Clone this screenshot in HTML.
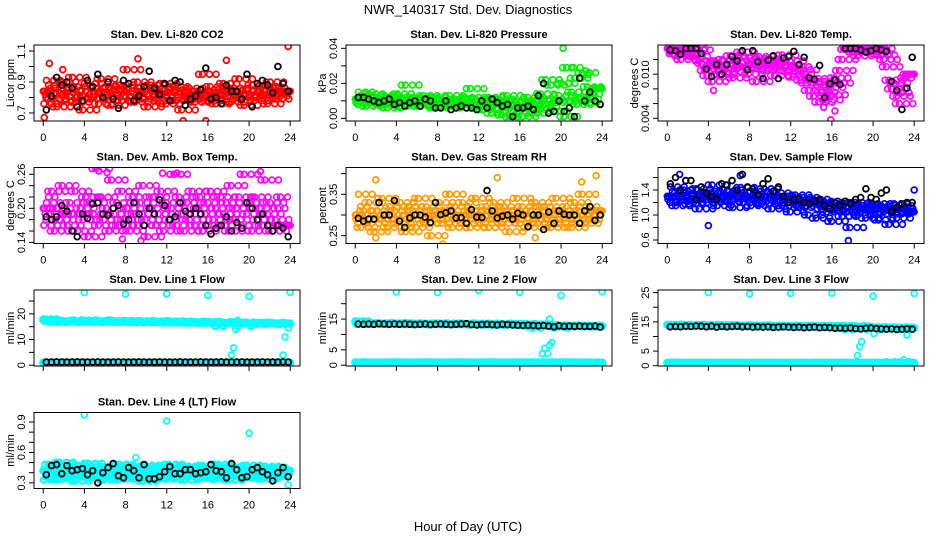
<!DOCTYPE html>
<html>
<head>
<meta charset="utf-8">
<style>
html,body{margin:0;padding:0;background:#fff;}
svg{display:block;}
text{font-family:"Liberation Sans",Arial,sans-serif;fill:#000;}
.t{font-weight:bold;font-size:11px;}
.tk{font-size:11px;}
</style>
</head>
<body>
<svg id="chart" width="936" height="540" viewBox="0 0 936 540" xmlns="http://www.w3.org/2000/svg">
<rect x="0" y="0" width="936" height="540" fill="#fff"/>
<text x="468" y="14" text-anchor="middle" font-size="13">NWR_140317  Std. Dev. Diagnostics</text>
<text x="468" y="531" text-anchor="middle" font-size="13">Hour of Day (UTC)</text>
</svg>
<script>
// ---------- data ----------
const xTicks = [0,4,8,12,16,20,24];
const xTickLabels = ["0","4","8","12","16","20","24"];

const co2Color = [0.84,0.80,0.88,0.76,0.91,0.82,0.79,0.86,0.74,0.83,0.90,0.78,0.85,0.81,0.93,0.77,0.87,0.80,0.72,0.84,0.89,0.79,0.82,0.86,0.76,0.92,0.83,0.80,0.87,0.75,0.85,0.81,0.88,0.78,0.84,0.98,0.80,0.86,0.77,0.90,0.82,0.79,0.84,0.74,0.88,0.81,0.86,0.78,0.83,0.89,0.76,0.85,0.80,0.87,0.78,0.84,0.72,0.82,0.79,0.86,0.81,0.77,0.84,0.80,0.95,0.82,0.78,0.87,0.83,0.76,0.85,0.81,0.89,0.79,0.84,0.77,0.86,0.82,0.92,0.80,0.75,0.85,0.81,0.88,0.78,0.84,0.80,0.87,0.82,0.76,0.90,0.83,0.79,0.86,0.81,0.84];
const co2Black = [0.72,0.81,0.93,0.88,0.90,0.86,0.74,0.78,0.91,0.87,0.95,0.80,0.90,0.79,0.73,0.91,0.89,0.78,0.81,0.87,0.97,0.86,0.82,0.89,0.78,0.91,0.90,0.75,0.79,0.81,0.85,0.99,0.79,0.80,0.76,0.88,0.84,0.84,0.79,0.95,0.74,0.89,0.91,0.88,0.83,1.00,0.89,0.84];
const co2OutHours = [0.1,0.6,1.9,9.2,13.6,15.8,17.8,23.8];
const co2OutValues = [0.67,1.02,0.98,1.05,0.65,0.65,1.04,1.13];

const presColor = [.011,.008,.013,.009,.015,.010,.012,.007,.014,.010,.009,.012,.008,.011,.013,.006,.010,.012,.009,.014,.007,.011,.019,.010,.008,.012,.009,.011,.007,.013,.010,.008,.012,.006,.010,.009,.011,.007,.010,.013,.008,.011,.009,.006,.010,.012,.008,.017,.009,.011,.007,.010,.005,.008,.012,.003,.009,.006,.011,.002,.008,.013,.001,.007,.010,.004,.009,.001,.006,.012,.003,.008,.010,.005,.014,.007,.022,.011,.019,.004,.009,.013,.020,.001,.029,.010,.015,.023,.008,.012,.026,.011,.018,.009,.014,.017];
const presBlack = [.012,.012,.011,.010,.009,.010,.011,.008,.009,.007,.009,.010,.007,.011,.010,.006,.006,.010,.005,.006,.007,.006,.006,.005,.010,.006,.011,.009,.007,.008,.001,.006,.006,.007,.005,.013,.020,.003,.004,.010,.004,.006,.001,.023,.010,.015,.010,.008];
const presOutHours = [20.2,21.0,22.4,22.6];
const presOutValues = [0.040,0.029,0.027,0.025];

const tempColor = [.0135,.0134,.0133,.0135,.0130,.0128,.0133,.0125,.0120,.0134,.0131,.0128,.0135,.0124,.0133,.0118,.0115,.0105,.0098,.0110,.0090,.0118,.0107,.0100,.0120,.0112,.0103,.0125,.0095,.0115,.0108,.0130,.0122,.0110,.0100,.0118,.0113,.0090,.0124,.0108,.0115,.0105,.0121,.0112,.0098,.0117,.0109,.0126,.0112,.0104,.0118,.0096,.0110,.0100,.0092,.0106,.0088,.0078,.0094,.0070,.0085,.0062,.0075,.0090,.0065,.0082,.0072,.0095,.0088,.0105,.0120,.0134,.0135,.0133,.0130,.0135,.0125,.0135,.0134,.0132,.0135,.0131,.0133,.0128,.0135,.0126,.0120,.0110,.0092,.0080,.0088,.0070,.0060,.0075,.0095,.0100];
const tempBlack = [.0133,.0132,.0127,.0135,.0135,.0135,.0128,.0107,.0097,.0113,.0100,.0113,.0124,.0118,.0132,.0106,.0132,.0117,.0094,.0119,.0125,.0094,.0122,.0124,.0131,.0113,.0123,.0095,.0093,.0112,.0068,.0087,.0092,.0086,.0135,.0135,.0135,.0133,.0130,.0132,.0135,.0133,.0131,.0090,.0078,.0052,.0081,.0123];
const tempOutHours = [15.9,4.5,15.2,16.3];
const tempOutValues = [.0038,.0078,.0055,.0050];

const ambColor = [.20,.18,.22,.17,.21,.19,.23,.16,.20,.18,.24,.19,.17,.21,.19,.23,.16,.20,.18,.22,.15,.21,.19,.27,.17,.22,.18,.20,.16,.25,.19,.21,.17,.23,.18,.20,.16,.22,.19,.17,.21,.24,.18,.15,.20,.22,.17,.19,.23,.16,.21,.18,.20,.26,.17,.22,.19,.16,.21,.18,.23,.17,.20,.22,.16,.19,.21,.23,.18,.20,.17,.22,.19,.21,.16,.24,.18,.20,.22,.17,.26,.19,.21,.16,.22,.18,.20,.17,.25,.19,.21,.16,.18,.20,.22,.17];
const ambBlack = [.185,.180,.185,.205,.195,.160,.150,.190,.182,.208,.210,.190,.188,.200,.205,.172,.180,.210,.190,.170,.200,.190,.215,.205,.180,.185,.210,.195,.190,.200,.190,.170,.155,.165,.170,.185,.160,.175,.165,.210,.200,.180,.190,.170,.160,.170,.165,.150];
const ambOutHours = [5.4,6.2,7.7,9.5,13.0,21.1,11.6];
const ambOutValues = [.266,.263,.146,.143,.262,.265,.262];

const rhColor = [.30,.28,.32,.29,.35,.27,.31,.30,.33,.28,.26,.31,.29,.34,.30,.27,.32,.29,.31,.28,.33,.30,.26,.32,.29,.31,.27,.34,.30,.28,.32,.29,.25,.31,.30,.33,.28,.31,.29,.35,.27,.32,.30,.28,.33,.29,.31,.27,.30,.34,.28,.31,.29,.32,.27,.30,.33,.29,.31,.28,.32,.30,.26,.31,.29,.34,.28,.32,.30,.27,.31,.29,.33,.28,.30,.32,.29,.31,.27,.30,.34,.28,.31,.29,.32,.30,.27,.33,.29,.31,.35,.28,.30,.32,.29,.31];
const rhBlack = [.292,.285,.290,.290,.330,.300,.300,.335,.285,.270,.293,.300,.300,.295,.282,.330,.301,.305,.310,.293,.294,.280,.313,.295,.294,.359,.310,.293,.297,.300,.290,.304,.300,.272,.300,.300,.265,.307,.280,.310,.302,.300,.300,.280,.310,.320,.287,.300];
const rhOutHours = [2.0,13.8,22.0,23.4,8.5,2.0,17.5];
const rhOutValues = [.385,.390,.380,.395,.230,.245,.245];

const flowColor = [1.30,1.20,1.38,1.25,1.45,1.28,1.15,1.35,1.22,1.40,1.30,1.18,1.32,1.25,1.42,1.10,1.28,1.36,1.20,1.30,1.48,1.25,1.15,1.38,1.28,1.22,1.40,1.30,1.12,1.35,1.26,1.44,1.20,1.32,1.28,1.15,1.38,1.25,1.30,1.18,1.42,1.22,1.28,1.10,1.35,1.24,1.30,1.15,1.28,1.20,1.05,1.25,1.32,1.12,1.22,1.28,1.15,1.00,1.20,1.25,0.95,1.18,1.10,1.22,1.05,1.15,0.90,1.20,1.08,1.12,0.98,1.18,1.05,0.80,1.12,1.20,1.00,1.10,1.15,0.95,1.08,1.18,1.02,1.12,0.92,1.15,1.05,1.10,0.85,1.08,1.18,0.95,1.10,1.02,1.15,1.05];
const flowBlack = [1.50,1.60,1.40,1.55,1.55,1.25,1.45,1.35,1.30,1.25,1.50,1.48,1.55,1.40,1.65,1.45,1.42,1.32,1.50,1.58,1.38,1.45,1.30,1.20,1.25,1.25,1.20,1.18,1.22,1.25,1.15,1.10,1.20,1.15,1.22,1.18,1.25,1.28,1.42,1.28,1.25,1.35,1.40,1.05,1.12,1.18,1.20,1.20];
const flowOutHours = [17.6,4.0,1.2,7.1,24.0];
const flowOutValues = [0.59,0.83,1.65,1.63,1.40];

const line1High = [17.8,17.2,17.0,17.4,16.9,17.1,17.3,16.8,17.2,17.0,17.5,16.9,17.1,17.3,16.8,17.0,17.2,16.9,17.1,16.8,17.0,17.2,16.7,16.9,17.1,16.8,16.9,16.6,17.0,16.8,16.7,16.9,16.5,16.8,16.6,16.4,16.7,15.2,16.5,16.3,16.6,16.4,16.2,16.5,16.3,16.1,16.4,16.2];
const line1Low = [1.0,0.9,1.0,0.9,1.0,0.9,1.0,0.9,1.0,0.9,1.0,0.9,1.0,0.9,1.0,0.9,1.0,0.9,1.0,0.9,1.0,0.9,1.0,0.9,1.0,0.9,1.0,0.9,1.0,0.9,1.0,0.9,1.0,0.9,1.0,0.9,1.0,0.9,1.0,0.9,1.0,0.9,1.0,0.9,1.0,0.9,1.0,0.9];
const line1Black = [1.2,1.2,1.3,1.2,1.2,1.2,1.3,1.2,1.2,1.2,1.3,1.2,1.2,1.2,1.3,1.2,1.2,1.2,1.3,1.2,1.2,1.2,1.3,1.2,1.2,1.2,1.3,1.2,1.2,1.2,1.3,1.2,1.2,1.2,1.3,1.2,1.2,1.2,1.3,1.2,1.2,1.2,1.3,1.2,1.2,1.2,1.3,1.2];
const line1OutHours = [4,8,12,16,20,24,18.3,18.5,18.7,18.9,23.3,23.5,23.8];
const line1OutValues = [28.3,27.7,27.8,27.2,26.8,28.4,4.0,6.8,14.0,17.5,4.0,11.0,14.5];

const line2High = [14.2,13.6,13.5,13.4,13.6,13.5,13.4,13.7,13.5,13.4,13.6,13.5,13.4,13.5,13.3,13.6,13.4,13.5,13.3,13.4,13.6,13.3,13.4,13.5,13.3,13.4,13.2,13.5,13.3,13.2,13.4,13.1,13.3,13.2,13.4,13.1,13.0,12.6,12.2,12.8,12.9,12.7,12.8,12.6,12.8,12.7,12.6,12.7];
const line2Low = [0.9,0.8,0.9,0.8,0.9,0.8,0.9,0.8,0.9,0.8,0.9,0.8,0.9,0.8,0.9,0.8,0.9,0.8,0.9,0.8,0.9,0.8,0.9,0.8,0.9,0.8,0.9,0.8,0.9,0.8,0.9,0.8,0.9,0.8,0.9,0.8,0.9,0.8,0.9,0.8,0.9,0.8,0.9,0.8,0.9,0.8,0.9,0.8];
const line2Black = [13.4,13.3,13.4,13.3,13.5,13.4,13.3,13.4,13.3,13.4,13.3,13.2,13.3,13.4,13.2,13.3,13.4,13.3,13.2,13.3,13.4,13.5,13.2,13.1,13.2,13.3,13.2,13.1,13.3,13.2,13.1,13.0,12.9,13.0,12.9,12.8,12.9,12.7,12.5,12.8,12.6,12.7,12.6,12.7,12.6,12.6,12.7,12.4];
const line2OutHours = [4,8,12,16,20,24,18.2,18.4,18.7,18.9,19.1,18.9];
const line2OutValues = [23.8,23.6,24.3,23.7,22.7,23.9,3.8,5.5,3.8,6.5,7.3,15.0];

const line3High = [14.0,13.8,13.7,13.9,13.8,13.7,13.9,14.0,13.8,13.7,13.9,13.8,13.6,13.8,13.7,13.6,13.8,13.7,13.5,13.7,13.6,13.5,13.7,13.6,13.5,13.6,13.4,13.6,13.5,13.4,13.5,13.6,13.4,13.5,13.3,13.6,13.4,13.0,12.5,13.2,13.0,13.1,12.9,13.1,12.9,12.8,13.0,12.9];
const line3Low = [1.0,0.9,1.0,0.9,1.0,0.9,1.0,0.9,1.0,0.9,1.0,0.9,1.0,0.9,1.0,0.9,1.0,0.9,1.0,0.9,1.0,0.9,1.0,0.9,1.0,0.9,1.0,0.9,1.0,0.9,1.0,0.9,1.0,0.9,1.0,0.9,1.0,0.9,1.0,0.9,1.0,0.9,1.0,0.9,1.0,0.9,1.2,0.9];
const line3Black = [13.3,13.4,13.3,13.5,13.4,13.6,13.5,13.3,13.5,13.2,13.4,13.3,13.4,13.5,13.3,13.4,13.2,13.3,13.2,13.3,13.1,13.2,13.3,13.2,13.1,13.2,13.0,13.1,13.2,13.0,13.1,13.0,12.8,12.9,12.8,12.9,12.7,12.6,12.8,12.9,12.7,12.6,12.5,12.6,12.4,12.5,12.6,12.5];
const line3OutHours = [4,8,12,16,20,24,18.5,18.7,18.9,20.1,23.3,23.0];
const line3OutValues = [25.0,24.6,24.7,24.8,23.8,24.7,3.5,6.5,8.2,11.0,10.5,2.0];

const line4Color = [0.42,0.36,0.46,0.33,0.40,0.48,0.35,0.44,0.38,0.50,0.34,0.42,0.45,0.37,0.41,0.32,0.47,0.39,0.36,0.43,0.49,0.35,0.40,0.44,0.38,0.46,0.33,0.42,0.37,0.45,0.40,0.35,0.48,0.39,0.43,0.34,0.41,0.46,0.36,0.44,0.38,0.32,0.47,0.40,0.35,0.43,0.39,0.45,0.37,0.42,0.34,0.48,0.40,0.36,0.44,0.38,0.46,0.33,0.41,0.45,0.37,0.43,0.39,0.35,0.47,0.40,0.36,0.44,0.42,0.34,0.48,0.38,0.41,0.45,0.33,0.40,0.46,0.37,0.43,0.39,0.35,0.47,0.41,0.36,0.44,0.38,0.42,0.34,0.46,0.40,0.37,0.43,0.39,0.45,0.36,0.42];
const line4Black = [0.38,0.47,0.48,0.39,0.47,0.42,0.43,0.44,0.38,0.42,0.30,0.40,0.45,0.49,0.37,0.35,0.45,0.42,0.35,0.48,0.34,0.34,0.36,0.41,0.46,0.39,0.39,0.43,0.43,0.39,0.40,0.41,0.48,0.42,0.41,0.35,0.49,0.43,0.35,0.36,0.43,0.45,0.41,0.38,0.32,0.40,0.45,0.36];
const line4OutHours = [4.0,12.0,20.0,9.0,23.8];
const line4OutValues = [0.97,0.91,0.79,0.55,0.28];

// ---------- layout ----------
const NS = "http://www.w3.org/2000/svg";
const svg = document.getElementById("chart");
const BOX_W = 266, BOX_H = 76;
const XMIN = -0.9, XMAX = 24.95;
const CLOUD_SHIFT = [0, 3, -2, 5];

function mk(tag, attrs, parent) {
  const e = document.createElementNS(NS, tag);
  for (const k in attrs) e.setAttribute(k, attrs[k]);
  (parent || svg).appendChild(e);
  return e;
}

function drawPanel(p) {
  const left = 34 + p.col * 312;
  const top = 45 + p.row * 122.5;
  const g = mk("g", {});
  
  
  const sx = h => left + (h - XMIN) / (XMAX - XMIN) * BOX_W;
  const sy = v => top + BOX_H - (v - p.ymin) / (p.ymax - p.ymin) * BOX_H;

  const title = mk("text", {x: left + BOX_W / 2, y: top - 7, "text-anchor": "middle", class: "t"}, g);
  title.textContent = p.title;
  
  

  const clip = mk("clipPath", {id: "clip-" + p.name}, g);
  mk("rect", {x: left, y: top, width: BOX_W, height: BOX_H}, clip);
  const marks = mk("g", {"clip-path": "url(#clip-" + p.name + ")"}, g);
  
  

  function dot(h, v, color, nm, r, sw) {
    const c = mk("circle", {cx: sx(h).toFixed(1), cy: sy(v).toFixed(1), r: r, fill: "none", stroke: color, "stroke-width": sw}, marks);
    
    
  }
  // dense cloud: each sample at its hour, plus nearby samples drawn in-between
  function cloud(vals, color, nm, r, sw) {
    const n = vals.length;
    const step = 24 / (n - 1);
    CLOUD_SHIFT.forEach((s, k) => {
      vals.forEach((v, i) => {
        const j = Math.max(0, Math.min(n - 1, i + s));
        const h = i * step + k * step / 4;
        if (h <= 24.05) dot(h, vals[j], color, nm, r, sw);
      });
    });
  }
  function series(vals, color, nm, r, sw, x0, x1) {
    const n = vals.length;
    vals.forEach((v, i) => dot(x0 + i * (x1 - x0) / (n - 1), v, color, nm, r, sw));
  }
  p.colorSeries.forEach(s => cloud(s, p.color, p.name + '-point', p.r || 2.9, p.sw || 1.7));
  p.outH.forEach((h, i) => dot(h, p.outV[i], p.color, p.name + '-outlier', 2.9, 1.8));
  series(p.black, "#000", p.name + '-mean-point', 2.9, 1.8, 0.3, 23.8);

  const box = mk("rect", {x: left, y: top, width: BOX_W, height: BOX_H, fill: "none", stroke: "#000", "stroke-width": 1}, g);
  
  

  const bot = top + BOX_H;
  const xa = mk("g", {}, g);
  
  
  mk("line", {x1: sx(0), x2: sx(24), y1: bot, y2: bot, stroke: "#000"}, xa);
  xTicks.forEach((t, i) => {
    mk("line", {x1: sx(t), x2: sx(t), y1: bot, y2: bot + 5, stroke: "#000"}, xa);
    if (p.xlabels) {
      const tx = mk("text", {x: sx(t), y: bot + 20, "text-anchor": "middle", class: "tk"}, xa);
      tx.textContent = xTickLabels[i];
    }
  });
  const ya = mk("g", {}, g);
  
  
  mk("line", {x1: left, x2: left, y1: sy(p.ticks[0]), y2: sy(p.ticks[p.ticks.length - 1]), stroke: "#000"}, ya);
  p.ticks.forEach(t => {
    mk("line", {x1: left - 5, x2: left, y1: sy(t), y2: sy(t), stroke: "#000"}, ya);
  });
  p.labels.forEach((lab, i) => {
    const y = sy(p.labelVals[i]);
    const tx = mk("text", {x: left - 9, y: y, "text-anchor": "middle", class: "tk", transform: "rotate(-90 " + (left - 9) + " " + y + ")"}, ya);
    tx.textContent = lab;
  });
  const yl = mk("text", {x: left - 20, y: top + BOX_H / 2, "text-anchor": "middle", class: "tk", transform: "rotate(-90 " + (left - 20) + " " + (top + BOX_H / 2) + ")"}, g);
  yl.textContent = p.ylab;
  
  
}

const panels = [
  {name: "co2", title: "Stan. Dev. Li-820 CO2", ylab: "Licor ppm", col: 0, row: 0, ymin: 0.648, ymax: 1.139, ticks: [0.7,0.8,0.9,1.0,1.1], labels: ["0.7","0.9","1.1"], labelVals: [0.7,0.9,1.1], color: "#ff0000", colorSeries: [co2Color], black: co2Black, outH: co2OutHours, outV: co2OutValues, xlabels: true},
  {name: "pressure", title: "Stan. Dev. Li-820 Pressure", ylab: "kPa", col: 1, row: 0, ymin: -0.0015, ymax: 0.0419, ticks: [0,0.01,0.02,0.03,0.04], labels: ["0.00","0.02","0.04"], labelVals: [0,0.02,0.04], color: "#00ee00", colorSeries: [presColor], black: presBlack, outH: presOutHours, outV: presOutValues, xlabels: true},
  {name: "li820-temp", title: "Stan. Dev. Li-820 Temp.", ylab: "degrees C", col: 2, row: 0, ymin: 0.00363, ymax: 0.01397, ticks: [0.004,0.006,0.008,0.010,0.012], labels: ["0.004","0.010"], labelVals: [0.004,0.010], color: "#ff00ff", colorSeries: [tempColor], black: tempBlack, outH: tempOutHours, outV: tempOutValues, xlabels: true},
  {name: "amb-box-temp", title: "Stan. Dev. Amb. Box Temp.", ylab: "degrees C", col: 0, row: 1, ymin: 0.138, ymax: 0.272, ticks: [0.14,0.16,0.18,0.20,0.22,0.24,0.26], labels: ["0.14","0.20","0.26"], labelVals: [0.14,0.20,0.26], color: "#ff00ff", colorSeries: [ambColor], black: ambBlack, outH: ambOutHours, outV: ambOutValues, xlabels: true},
  {name: "gas-rh", title: "Stan. Dev. Gas Stream RH", ylab: "percent", col: 1, row: 1, ymin: 0.2312, ymax: 0.4147, ticks: [0.25,0.30,0.35,0.40], labels: ["0.25","0.35"], labelVals: [0.25,0.35], color: "#ff9a00", colorSeries: [rhColor], black: rhBlack, outH: rhOutHours, outV: rhOutValues, xlabels: true},
  {name: "sample-flow", title: "Stan. Dev. Sample Flow", ylab: "ml/min", col: 2, row: 1, ymin: 0.544, ymax: 1.76, ticks: [0.6,0.8,1.0,1.2,1.4,1.6], labels: ["0.6","1.0","1.4"], labelVals: [0.6,1.0,1.4], color: "#0000ff", colorSeries: [flowColor], black: flowBlack, outH: flowOutHours, outV: flowOutValues, xlabels: true},
  {name: "line1-flow", title: "Stan. Dev. Line 1 Flow", ylab: "ml/min", col: 0, row: 2, ymin: -0.3, ymax: 29.3, ticks: [0,5,10,15,20,25], labels: ["0","10","20"], labelVals: [0,10,20], color: "#00ffff", colorSeries: [line1High, line1Low], black: line1Black, outH: line1OutHours, outV: line1OutValues, xlabels: false, r: 3, sw: 2.4},
  {name: "line2-flow", title: "Stan. Dev. Line 2 Flow", ylab: "ml/min", col: 1, row: 2, ymin: -0.26, ymax: 24.45, ticks: [0,5,10,15,20], labels: ["0","5","15"], labelVals: [0,5,15], color: "#00ffff", colorSeries: [line2High, line2Low], black: line2Black, outH: line2OutHours, outV: line2OutValues, xlabels: false, r: 3, sw: 2.4},
  {name: "line3-flow", title: "Stan. Dev. Line 3 Flow", ylab: "ml/min", col: 2, row: 2, ymin: -0.1, ymax: 25.9, ticks: [0,5,10,15,20,25], labels: ["0","5","15","25"], labelVals: [0,5,15,25], color: "#00ffff", colorSeries: [line3High, line3Low], black: line3Black, outH: line3OutHours, outV: line3OutValues, xlabels: false, r: 3, sw: 2.4},
  {name: "line4-flow", title: "Stan. Dev. Line 4 (LT) Flow", ylab: "ml/min", col: 0, row: 3, ymin: 0.244, ymax: 0.994, ticks: [0.3,0.4,0.5,0.6,0.7,0.8,0.9], labels: ["0.3","0.6","0.9"], labelVals: [0.3,0.6,0.9], color: "#00ffff", colorSeries: [line4Color], black: line4Black, outH: line4OutHours, outV: line4OutValues, xlabels: true, r: 3, sw: 2.2}
];
panels.forEach(drawPanel);
</script>
</body>
</html>
